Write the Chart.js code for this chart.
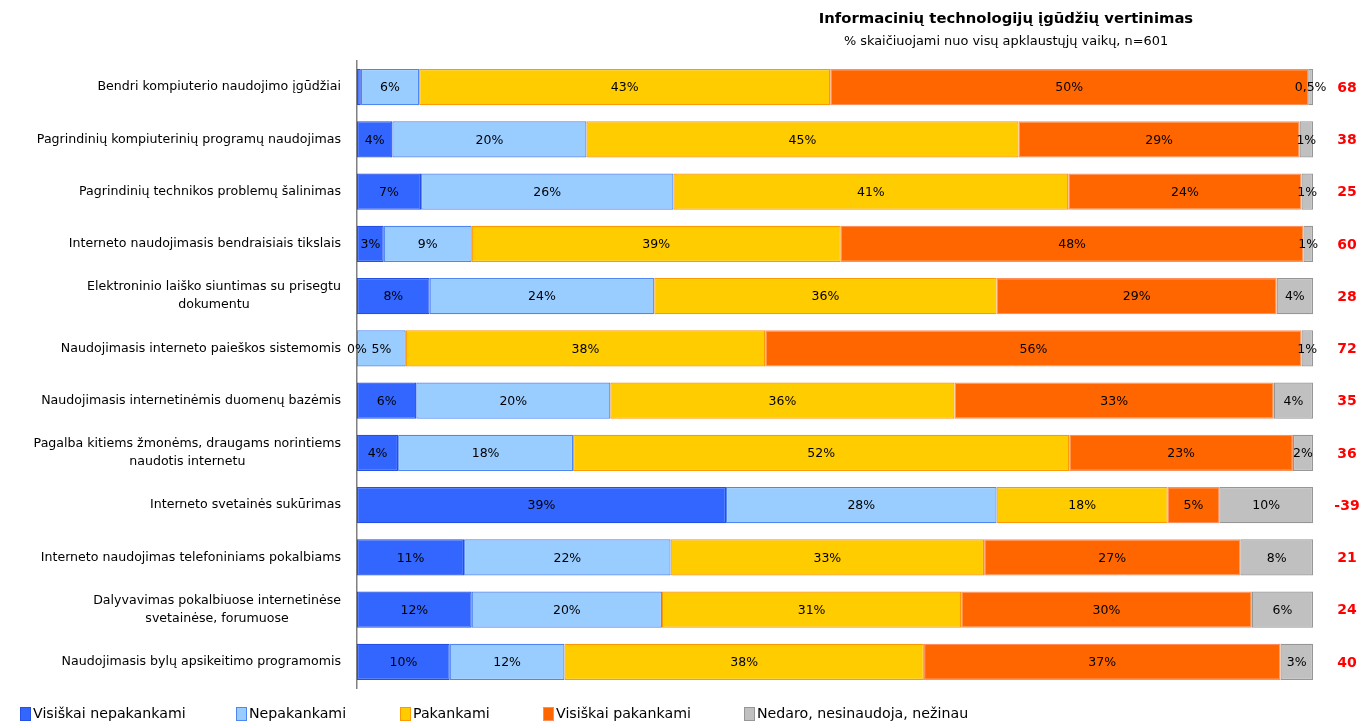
<!DOCTYPE html>
<html>
<head>
<meta charset="utf-8">
<script src="https://cdn.jsdelivr.net/npm/chart.js@4"></script>
<style>
html, body { margin: 0; padding: 0; background: #fff; }
#wrap { width: 1361px; height: 722px; position: relative; }
</style>
</head>
<body>
<div id="wrap"><canvas id="chart"></canvas></div>
<script>
// Informacinių technologijų įgūdžių vertinimas
var categories = [
    ['Bendri kompiuterio naudojimo įgūdžiai'],
    ['Pagrindinių kompiuterinių programų naudojimas'],
    ['Pagrindinių technikos problemų šalinimas'],
    ['Interneto naudojimasis bendraisiais tikslais'],
    ['Elektroninio laiško siuntimas su prisegtu', 'dokumentu'],
    ['Naudojimasis interneto paieškos sistemomis'],
    ['Naudojimasis internetinėmis duomenų bazėmis'],
    ['Pagalba kitiems žmonėms, draugams norintiems', 'naudotis internetu'],
    ['Interneto svetainės sukūrimas'],
    ['Interneto naudojimas telefoniniams pokalbiams'],
    ['Dalyvavimas pokalbiuose internetinėse', 'svetainėse, forumuose'],
    ['Naudojimasis bylų apsikeitimo programomis']
];

var seriesNames = ['Visiškai nepakankami', 'Nepakankami', 'Pakankami', 'Visiškai pakankami', 'Nedaro, nesinaudoja, nežinau'];

var visiskaiNepakankami = [0.4, 3.7, 6.7, 2.8, 7.6, 0, 6.2, 4.3, 38.6, 11.2, 12.0, 9.7];
var nepakankami = [6.1, 20.3, 26.4, 9.2, 23.5, 5.1, 20.3, 18.3, 28.3, 21.6, 19.9, 12.0];
var pakankami = [43.0, 45.2, 41.3, 38.6, 35.8, 37.6, 36.0, 51.9, 17.9, 32.8, 31.3, 37.6];
var visiskaiPakankami = [50.0, 29.4, 24.4, 48.4, 29.3, 56.1, 33.4, 23.4, 5.4, 26.8, 30.4, 37.3];
var nedaro = [0.5, 1.4, 1.2, 1.0, 3.8, 1.2, 4.1, 2.1, 9.8, 7.6, 6.4, 3.4];

// balansas (pakankami - nepakankami), rodomas dešinėje
var balansas = [68, 38, 25, 60, 28, 72, 35, 36, -39, 21, 24, 40];

var fillColors = ['#3366FF', '#99CCFF', '#FFCC00', '#FF6600', '#C0C0C0'];
var edgeColors = ['#2450e6', '#4f86f5', '#ff9900', '#ff8f5a', '#969696'];

var FONT = '"DejaVu Sans", Verdana, sans-serif';

function pctText(v) {
    if (v === 0) return '0%';
    if (v < 0.45) return '';
    if (v < 1) return String(v).replace('.', ',') + '%';
    return Math.round(v) + '%';
}

var seriesData = [visiskaiNepakankami, nepakankami, pakankami, visiskaiPakankami, nedaro];

var datasets = seriesData.map(function (arr, i) {
    return {
        label: seriesNames[i],
        data: arr,
        backgroundColor: fillColors[i],
        borderColor: edgeColors[i],
        borderWidth: 1.2,
        borderSkipped: false,
        barPercentage: 0.69,
        categoryPercentage: 1.0
    };
});

// tekstai ant juostų, kategorijų pavadinimai, balansas, antraštė ir legenda
var decorPlugin = {
    id: 'decor',
    afterDatasetsDraw: function (chart) {
        var ctx = chart.ctx;
        var yScale = chart.scales.y;
        var area = chart.chartArea;
        ctx.save();

        // segment labels
        ctx.font = '12.5px ' + FONT;
        ctx.fillStyle = '#000';
        ctx.textAlign = 'center';
        ctx.textBaseline = 'middle';
        chart.data.datasets.forEach(function (ds, di) {
            var meta = chart.getDatasetMeta(di);
            meta.data.forEach(function (bar, i) {
                var t = pctText(ds.data[i]);
                if (!t) return;
                ctx.fillText(t, (bar.x + bar.base) / 2, bar.y + 1);
            });
        });

        // category labels (right edge, wrapped lines centred)
        ctx.font = '12.6px ' + FONT;
        var rightEdge = area.left - 16;
        categories.forEach(function (lines, i) {
            var y = yScale.getPixelForValue(i);
            var maxW = 0;
            lines.forEach(function (l) { maxW = Math.max(maxW, ctx.measureText(l).width); });
            var cx = rightEdge - maxW / 2;
            var lh = 18;
            var y0 = y - (lines.length - 1) * lh / 2;
            lines.forEach(function (l, k) {
                ctx.fillText(l, cx, y0 + k * lh);
            });
        });

        // balance numbers
        ctx.font = 'bold 14px ' + FONT;
        ctx.fillStyle = '#FF0000';
        balansas.forEach(function (v, i) {
            ctx.fillText(String(v), area.right + 34, yScale.getPixelForValue(i) + 1);
        });

        // title
        ctx.fillStyle = '#000';
        ctx.font = 'bold 14.8px ' + FONT;
        ctx.fillText('Informacinių technologijų įgūdžių vertinimas', 1006, 19);
        ctx.font = '12.9px ' + FONT;
        ctx.fillText('% skaičiuojami nuo visų apklaustųjų vaikų, n=601', 1006, 42);

        // legend
        var legendX = [20, 236, 400, 543, 744];
        ctx.textAlign = 'left';
        ctx.font = '14.2px ' + FONT;
        seriesNames.forEach(function (name, i) {
            var x = legendX[i];
            ctx.fillStyle = fillColors[i];
            ctx.fillRect(x, 707, 11, 14);
            ctx.strokeStyle = edgeColors[i];
            ctx.lineWidth = 1;
            ctx.strokeRect(x + 0.5, 707.5, 10, 13);
            ctx.fillStyle = '#000';
            ctx.fillText(name, x + 13, 714);
        });

        ctx.restore();
    }
};

new Chart(document.getElementById('chart'), {
    type: 'bar',
    data: {
        labels: categories,
        datasets: datasets
    },
    options: {
        indexAxis: 'y',
        responsive: true,
        maintainAspectRatio: false,
        animation: false,
        layout: {
            padding: { left: 357, right: 48, top: 61, bottom: 34 }
        },
        scales: {
            x: {
                stacked: true,
                min: 0,
                max: 100,
                display: false
            },
            y: {
                stacked: true,
                grid: { display: false, drawTicks: false },
                border: { display: true, color: '#808080', width: 1.5 },
                ticks: { display: false }
            }
        },
        plugins: {
            legend: { display: false },
            title: { display: false },
            tooltip: { enabled: false }
        }
    },
    plugins: [decorPlugin]
});
</script>
</body>
</html>
